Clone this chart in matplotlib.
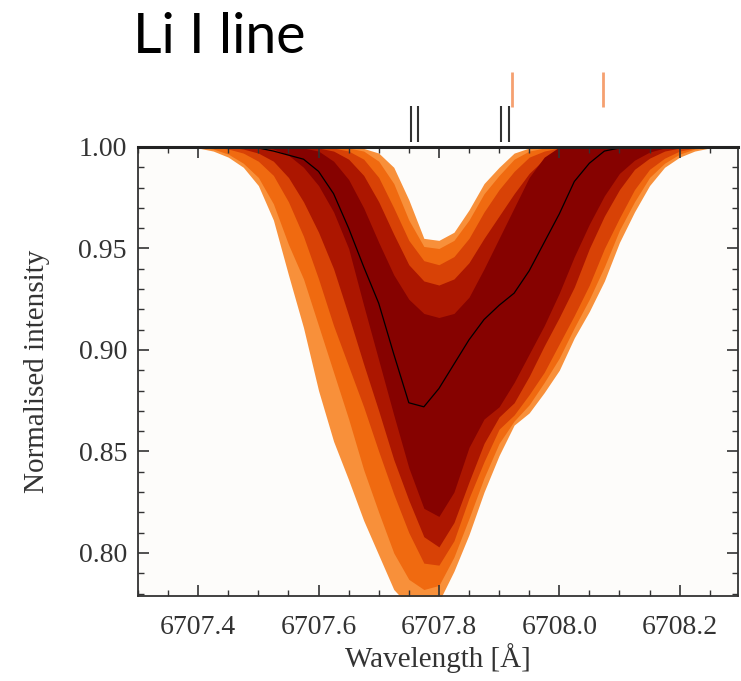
import numpy as np
import matplotlib.pyplot as plt
from matplotlib.ticker import MultipleLocator, FormatStrFormatter

wl = [6707.375, 6707.400, 6707.425, 6707.450, 6707.475, 6707.500, 6707.525,
      6707.550, 6707.575, 6707.600, 6707.625, 6707.650, 6707.675, 6707.700,
      6707.725, 6707.750, 6707.775, 6707.800, 6707.825, 6707.850, 6707.875,
      6707.900, 6707.925, 6707.950, 6707.975, 6708.000, 6708.025, 6708.050,
      6708.075, 6708.100, 6708.125, 6708.150, 6708.175, 6708.200, 6708.225,
      6708.250, 6708.275]

# envelopes of the profile families, outermost (light orange) to core (dark red)
low_1 = [1.0, 0.9995, 0.998, 0.995, 0.990, 0.981, 0.964, 0.937, 0.911, 0.880,
         0.855, 0.836, 0.816, 0.799, 0.782, 0.774, 0.773, 0.776, 0.791, 0.809,
         0.830, 0.848, 0.863, 0.869, 0.879, 0.890, 0.906, 0.919, 0.934, 0.953,
         0.968, 0.981, 0.990, 0.995, 0.998, 0.9995, 1.0]
top_1 = [1.0, 1.0, 1.0, 1.0, 1.0, 1.0, 1.0, 1.0, 1.0, 1.0,
         1.0, 1.0, 0.9993, 0.997, 0.990, 0.974, 0.955, 0.954, 0.958, 0.969,
         0.982, 0.990, 0.997, 0.9995, 1.0, 1.0, 1.0, 1.0, 1.0, 1.0,
         1.0, 1.0, 1.0, 1.0, 1.0, 1.0, 1.0]

low_2 = [1.0, 1.0, 0.999, 0.9965, 0.992, 0.985, 0.972, 0.952, 0.935, 0.912,
         0.889, 0.866, 0.841, 0.820, 0.800, 0.787, 0.782, 0.784, 0.798, 0.817,
         0.837, 0.854, 0.865, 0.873, 0.884, 0.896, 0.911, 0.925, 0.941, 0.959,
         0.973, 0.985, 0.992, 0.9965, 0.999, 1.0, 1.0]
top_2 = [1.0, 1.0, 1.0, 1.0, 1.0, 1.0, 1.0, 1.0, 1.0, 1.0,
         1.0, 0.9995, 0.998, 0.993, 0.982, 0.964, 0.951, 0.950, 0.954, 0.964,
         0.977, 0.986, 0.994, 0.998, 0.9995, 1.0, 1.0, 1.0, 1.0, 1.0,
         1.0, 1.0, 1.0, 1.0, 1.0, 1.0, 1.0]

low_3 = [1.0, 1.0, 1.0, 0.999, 0.997, 0.993, 0.986, 0.973, 0.956, 0.935,
         0.912, 0.892, 0.872, 0.850, 0.829, 0.810, 0.795, 0.794, 0.806, 0.827,
         0.845, 0.861, 0.868, 0.878, 0.889, 0.903, 0.917, 0.932, 0.950, 0.965,
         0.979, 0.989, 0.9945, 0.998, 0.9995, 1.0, 1.0]
top_3 = [1.0, 1.0, 1.0, 1.0, 1.0, 1.0, 1.0, 1.0, 1.0, 1.0,
         0.9995, 0.998, 0.994, 0.985, 0.970, 0.954, 0.944, 0.942, 0.946, 0.955,
         0.968, 0.979, 0.988, 0.995, 0.998, 0.9995, 1.0, 1.0, 1.0, 1.0,
         1.0, 1.0, 1.0, 1.0, 1.0, 1.0, 1.0]

low_4 = [1.0, 1.0, 1.0, 1.0, 0.999, 0.997, 0.993, 0.985, 0.973, 0.958,
         0.940, 0.917, 0.893, 0.870, 0.846, 0.826, 0.808, 0.803, 0.815, 0.835,
         0.854, 0.867, 0.874, 0.887, 0.902, 0.916, 0.931, 0.950, 0.966, 0.979,
         0.989, 0.9945, 0.998, 0.9995, 1.0, 1.0, 1.0]
top_4 = [1.0, 1.0, 1.0, 1.0, 1.0, 1.0, 1.0, 1.0, 1.0, 0.9995,
         0.998, 0.994, 0.986, 0.973, 0.957, 0.942, 0.934, 0.932, 0.935, 0.943,
         0.955, 0.966, 0.977, 0.987, 0.994, 0.998, 0.9995, 1.0, 1.0, 1.0,
         1.0, 1.0, 1.0, 1.0, 1.0, 1.0, 1.0]

low_5 = [1.0, 1.0, 1.0, 1.0, 1.0, 1.0, 0.999, 0.996, 0.990, 0.981,
         0.968, 0.950, 0.922, 0.895, 0.868, 0.842, 0.822, 0.818, 0.830, 0.852,
         0.866, 0.872, 0.884, 0.898, 0.912, 0.928, 0.946, 0.962, 0.976, 0.987,
         0.9935, 0.9975, 0.9995, 1.0, 1.0, 1.0, 1.0]
top_5 = [1.0, 1.0, 1.0, 1.0, 1.0, 1.0, 1.0, 1.0, 0.9995, 0.998,
         0.993, 0.984, 0.970, 0.953, 0.937, 0.925, 0.918, 0.916, 0.918, 0.926,
         0.940, 0.955, 0.970, 0.985, 0.995, 1.0, 1.0, 1.0, 1.0, 1.0,
         1.0, 1.0, 1.0, 1.0, 1.0, 1.0, 1.0]

# mean profile (black line)
mean_prof = [1.0, 1.0, 1.0, 1.0, 0.9995, 0.9995, 0.998, 0.996, 0.994, 0.988,
             0.977, 0.960, 0.941, 0.923, 0.898, 0.874, 0.872, 0.881, 0.893, 0.905,
             0.915, 0.922, 0.928, 0.939, 0.953, 0.967, 0.983, 0.992, 0.998, 0.9995,
             1.0, 1.0, 1.0, 1.0, 1.0, 1.0, 1.0]

# line positions marked above the frame
li7_lines = [6707.754, 6707.766, 6707.904, 6707.917]
li6_lines = [6707.921, 6708.072]

layers = [(low_1, top_1, '#f8903a'),
          (low_2, top_2, '#f06a10'),
          (low_3, top_3, '#d84206'),
          (low_4, top_4, '#ac1600'),
          (low_5, top_5, '#860200')]

fig = plt.figure(figsize=(7.41, 6.81), dpi=100)
ax = fig.add_axes([138 / 741, 1 - 596 / 681, 600 / 741, 449 / 681])
ax.set_facecolor('#fdfcfa')

for low, top, col in layers:
    ax.fill_between(wl, low, top, color=col, lw=0)

ax.plot(wl, mean_prof, color='black', lw=0.9)

ax.set_xlim(6707.3, 6708.297)
ax.set_ylim(0.7788, 1.0)

ax.xaxis.set_major_locator(MultipleLocator(0.2))
ax.xaxis.set_minor_locator(MultipleLocator(0.05))
ax.yaxis.set_major_locator(MultipleLocator(0.05))
ax.yaxis.set_minor_locator(MultipleLocator(0.01))
ax.xaxis.set_major_formatter(FormatStrFormatter('%.1f'))
ax.yaxis.set_major_formatter(FormatStrFormatter('%.2f'))

ax.tick_params(which='both', direction='in', top=True, right=True,
               color='#333333', labelcolor='#333333')
ax.tick_params(which='major', length=8, width=1.2)
ax.tick_params(which='minor', length=4, width=1.0)
ax.tick_params(axis='x', pad=14)
ax.tick_params(axis='y', pad=8)
for lab in ax.get_xticklabels() + ax.get_yticklabels():
    lab.set_fontfamily('Liberation Serif')
    lab.set_fontsize(20)
for sp in ax.spines.values():
    sp.set_color('#333333')
    sp.set_linewidth(1.3)
ax.spines['top'].set_linewidth(2.2)
ax.spines['top'].set_color('#222222')

trans = ax.get_xaxis_transform()
ax.vlines(li7_lines, 1.011, 1.091, transform=trans, color='#333333',
          lw=1.5, clip_on=False)
ax.vlines(li6_lines, 1.089, 1.167, transform=trans, color='#f5a070',
          lw=2.0, clip_on=False)

fig.text(37 / 741, 1 - 371 / 681, 'Normalised intensity', rotation=90,
         ha='center', va='center', fontsize=21, family='Liberation Serif',
         color='#333333')
fig.text(438 / 741, 1 - 658 / 681, 'Wavelength [Å]', ha='center',
         va='center', fontsize=21, family='Liberation Serif', color='#333333')
fig.text(133 / 741, 1 - 53 / 681, 'Li I line', ha='left', va='baseline',
         fontsize=40, family='Lato', color='black')

fig.savefig('out.png', dpi=100)
